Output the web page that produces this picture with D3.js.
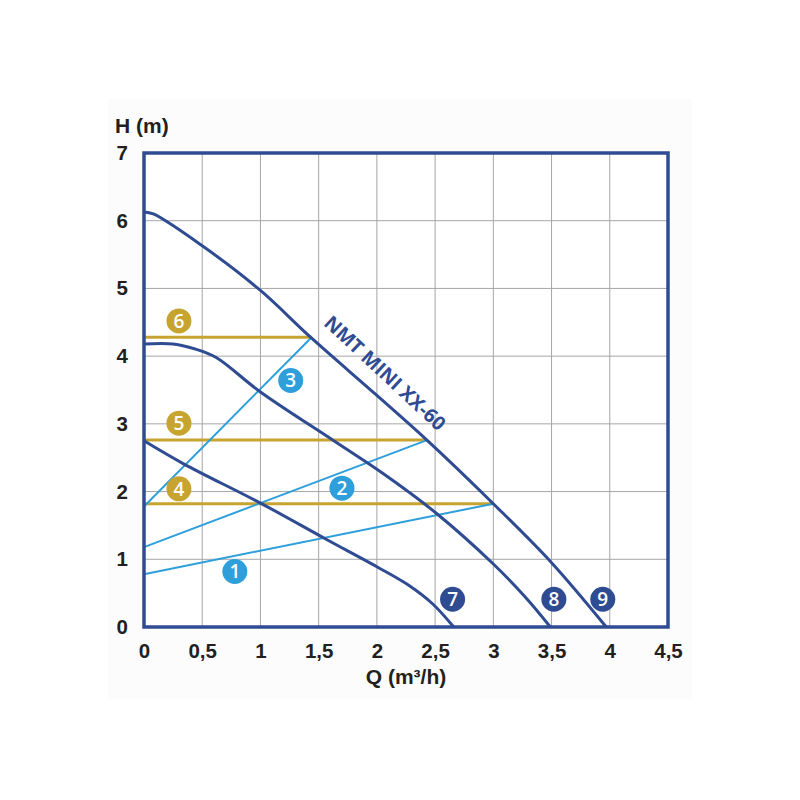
<!DOCTYPE html>
<html>
<head>
<meta charset="utf-8">
<script src="https://cdn.jsdelivr.net/npm/d3@7"></script>
<style>
  html, body { margin: 0; padding: 0; background: #ffffff; }
  svg { display: block; }
</style>
</head>
<body>
<svg id="chart" width="800" height="800"></svg>
<script>
// ---- data ----
const xTicks = [0, 0.5, 1, 1.5, 2, 2.5, 3, 3.5, 4, 4.5];
const yTicks = [0, 1, 2, 3, 4, 5, 6, 7];

// pump curves (Q, H)
const curve9 = [[0, 6.13], [0.08, 6.1], [0.5, 5.63], [1.0, 4.97], [1.43, 4.28], [2.0, 3.42], [2.43, 2.76], [3.0, 1.82], [3.5, 0.95], [3.97, 0]];
const curve8 = [[0, 4.18], [0.25, 4.18], [0.45, 4.1], [0.62, 3.98], [1.0, 3.47], [1.63, 2.75], [2.05, 2.27], [2.51, 1.68], [3.0, 0.93], [3.27, 0.45], [3.49, 0]];
const curve7 = [[0, 2.75], [0.34, 2.41], [1.0, 1.83], [1.56, 1.3], [2.0, 0.89], [2.27, 0.62], [2.48, 0.34], [2.66, 0]];

// control lines (light blue)
const line1 = [[0, 0.78], [3.0, 1.82]];
const line2 = [[0, 1.18], [2.43, 2.76]];
const line3 = [[0, 1.78], [1.44, 4.28]];

// constant-pressure lines (gold)
const line4 = [[0, 1.82], [3.0, 1.82]];
const line5 = [[0, 2.76], [2.43, 2.76]];
const line6 = [[0, 4.28], [1.44, 4.28]];

// badges: label, Q, H, group
const badgeLabels = ["1", "2", "3", "4", "5", "6", "7", "8", "9"];
const badgeQ = [0.78, 1.70, 1.26, 0.30, 0.30, 0.30, 2.65, 3.52, 3.94];
const badgeH = [0.82, 2.05, 3.64, 2.04, 3.01, 4.52, 0.41, 0.41, 0.41];
const badgeGroup = ["blue", "blue", "blue", "gold", "gold", "gold", "navy", "navy", "navy"];

const seriesName = "NMT MINI XX-60";

// ---- drawing ----
const colors = { navy: "#2f4b91", blue: "#2e9fdb", gold: "#c7a42f" };
const svg = d3.select("#chart");

const x = d3.scaleLinear().domain([0, 4.5]).range([144, 668]);
const y = d3.scaleLinear().domain([0, 7]).range([627, 153]);

// faint backdrop
svg.append("rect").attr("x", 108).attr("y", 98).attr("width", 584).attr("height", 601).attr("fill", "#fcfcfc");

// plot background
svg.append("rect").attr("x", x(0)).attr("y", y(7)).attr("width", x(4.5) - x(0)).attr("height", y(0) - y(7)).attr("fill", "#ffffff");

// grid
svg.append("g").selectAll("line").data(xTicks.slice(1, -1)).join("line")
  .attr("x1", d => x(d)).attr("x2", d => x(d)).attr("y1", y(0)).attr("y2", y(7))
  .attr("stroke", "#a6a6a6").attr("stroke-width", 1);
svg.append("g").selectAll("line").data(yTicks.slice(1, -1)).join("line")
  .attr("y1", d => y(d)).attr("y2", d => y(d)).attr("x1", x(0)).attr("x2", x(4.5))
  .attr("stroke", "#a6a6a6").attr("stroke-width", 1);

// axes (tick labels only)
const fmt = d => String(d).replace(".", ",");
const xAxis = svg.append("g").attr("transform", `translate(0,${y(0)})`)
  .call(d3.axisBottom(x).tickValues(xTicks).tickFormat(fmt).tickSize(0).tickPadding(16));
const yAxis = svg.append("g").attr("transform", `translate(${x(0)},0)`)
  .call(d3.axisLeft(y).tickValues(yTicks).tickFormat(fmt).tickSize(0).tickPadding(16));
[xAxis, yAxis].forEach(g => {
  g.select(".domain").remove();
  g.selectAll("text").attr("font-family", "Liberation Sans, Arial, sans-serif")
    .attr("font-weight", "bold").attr("font-size", 20.5).attr("fill", "#231f20");
});
xAxis.selectAll("text").attr("dy", "0.71em");

// axis titles
svg.append("text").attr("x", 115).attr("y", 133).text("H (m)")
  .attr("font-family", "Liberation Sans, Arial, sans-serif").attr("font-weight", "bold")
  .attr("font-size", 21).attr("fill", "#231f20");
svg.append("text").attr("x", x(2.25)).attr("y", 684).attr("text-anchor", "middle").text("Q (m³/h)")
  .attr("font-family", "Liberation Sans, Arial, sans-serif").attr("font-weight", "bold")
  .attr("font-size", 21).attr("fill", "#231f20");

// lines
const straight = d3.line().x(d => x(d[0])).y(d => y(d[1]));
const smooth = d3.line().x(d => x(d[0])).y(d => y(d[1])).curve(d3.curveCatmullRom.alpha(0.5));

[line4, line5, line6].forEach(l => svg.append("path").attr("d", straight(l))
  .attr("fill", "none").attr("stroke", colors.gold).attr("stroke-width", 3));
[line1, line2, line3].forEach(l => svg.append("path").attr("d", straight(l))
  .attr("fill", "none").attr("stroke", colors.blue).attr("stroke-width", 2));
[curve7, curve8, curve9].forEach(c => svg.append("path").attr("d", smooth(c))
  .attr("fill", "none").attr("stroke", colors.navy).attr("stroke-width", 3));

// frame
svg.append("rect").attr("x", x(0)).attr("y", y(7)).attr("width", x(4.5) - x(0)).attr("height", y(0) - y(7))
  .attr("fill", "none").attr("stroke", colors.navy).attr("stroke-width", 3.5);

// series label
svg.append("text")
  .attr("transform", `translate(${x(2.07)},${y(3.75)}) rotate(43)`)
  .attr("text-anchor", "middle").attr("dy", "0.35em")
  .attr("font-family", "Open Sans, Liberation Sans, sans-serif").attr("font-weight", "bold")
  .attr("font-size", 19.5).attr("fill", colors.navy).text(seriesName);

// badges
const badges = badgeLabels.map((l, i) => ({ l, q: badgeQ[i], h: badgeH[i], g: badgeGroup[i] }));
const bg = svg.append("g").selectAll("g").data(badges).join("g")
  .attr("transform", d => `translate(${x(d.q)},${y(d.h)})`);
bg.append("circle").attr("r", 12.5).attr("fill", d => colors[d.g]);
bg.append("text").attr("text-anchor", "middle").attr("dy", "0.36em")
  .attr("font-family", "Open Sans, Liberation Sans, sans-serif").attr("font-weight", "600")
  .attr("font-size", 19).attr("fill", "#ffffff").text(d => d.l);
</script>
</body>
</html>
